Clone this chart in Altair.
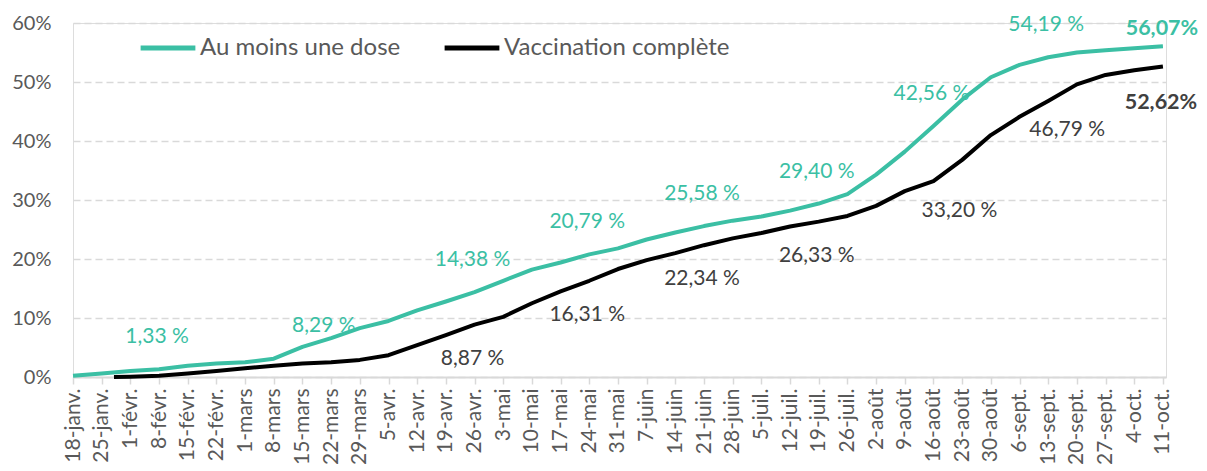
import altair as alt
import pandas as pd

TEAL = "#3BBFA4"
DARK = "#000000"
LBL_DARK = "#404040"
FONT = "Lato"

# weekly dates 18-janv. -> 11-oct. 2021
week_dates = pd.date_range("2021-01-18", "2021-10-11", freq="7D").strftime("%Y-%m-%d").tolist()

series_names = ["Au moins une dose", "Vaccination complète"]

# "Au moins une dose" (%), one value per week
dose1_values = [0.2, 0.6, 1.0, 1.33, 1.9, 2.3, 2.5, 3.1, 5.1, 6.6,
                8.29, 9.5, 11.3, 12.8, 14.38, 16.3, 18.2, 19.4, 20.79, 21.8,
                23.3, 24.5, 25.58, 26.5, 27.2, 28.2, 29.40, 31.0, 34.3, 38.2,
                42.56, 47.0, 50.8, 52.9, 54.19, 55.0, 55.4, 55.7, 56.07]

# "Vaccination complète" (%), starts 28-janv., then weekly from 1-févr.
full_dates = ["2021-01-28"] + week_dates[2:]
full_values = [0.0, 0.05, 0.2, 0.6, 1.0, 1.5, 1.9, 2.3, 2.5, 2.9,
               3.7, 5.4, 7.1, 8.87, 10.2, 12.5, 14.5, 16.31, 18.3, 19.8,
               21.0, 22.34, 23.5, 24.4, 25.5, 26.33, 27.3, 29.0, 31.5, 33.20,
               36.8, 41.0, 44.1, 46.79, 49.6, 51.2, 52.0, 52.62]

# annotations
teal_lbl_dates = ["2021-02-08", "2021-04-26", "2021-05-24", "2021-06-21",
                  "2021-07-19", "2021-08-16", "2021-09-13"]
teal_lbl_values = [1.33, 14.38, 20.79, 25.58, 29.40, 42.56, 54.19]
teal_side_dates = ["2021-03-29"]
teal_side_values = [8.29]
teal_end_dates = ["2021-10-11"]
teal_end_values = [56.07]

dark_lbl_dates = ["2021-04-26", "2021-05-24", "2021-06-21", "2021-07-19"]
dark_lbl_values = [8.87, 16.31, 22.34, 26.33]
dark_side_dates = ["2021-08-16", "2021-09-13"]
dark_side_values = [33.20, 46.79]
dark_end_dates = ["2021-10-11"]
dark_end_values = [52.62]

y_ticks = [0, 10, 20, 30, 40, 50, 60]


def fr(v, space=True):
    return f"{v:.2f}".replace(".", ",") + (" %" if space else "%")


lines_df = pd.DataFrame(
    {"date": week_dates, "value": dose1_values, "serie": series_names[0]}
)
lines_df = pd.concat([
    lines_df,
    pd.DataFrame({"date": full_dates, "value": full_values, "serie": series_names[1]}),
])


def lbl_df(dates, values, space=True):
    return pd.DataFrame({"date": dates, "value": values,
                         "txt": [fr(v, space) for v in values]})


def ms(d):
    return int(pd.Timestamp(d, tz="UTC").value // 10**6)


tick_values = [ms(d) for d in week_dates]

month_expr = ("['janv.','févr.','mars','avr.','mai','juin','juil.','août','sept.','oct.','nov.','déc.']"
              "[utcmonth(datum.value)]")

x_enc = alt.X(
    "date:T",
    scale=alt.Scale(type="utc",
                    domain=[ms("2021-01-18"), ms("2021-10-11") + 18 * 3600 * 1000]),
    axis=alt.Axis(
        values=tick_values,
        tickCount=200,
        labelExpr="utcdate(datum.value) + '-' + " + month_expr,
        labelAngle=270,
        labelFontSize=21,
        labelColor="#595959",
        labelFont=FONT,
        labelOverlap=False,
        labelFlush=False,
        labelSeparation=0,
        labelPadding=4,
        domainColor="#d9d9d9",
        domainWidth=2,
        tickColor="#d9d9d9",
        tickWidth=1.5,
        tickSize=7,
        grid=False,
        title=None,
    ),
)

y_enc = alt.Y(
    "value:Q",
    scale=alt.Scale(domain=[0, 60], nice=False, zero=True),
    axis=alt.Axis(
        values=y_ticks,
        labelExpr="datum.value + '%'",
        labelFontSize=20,
        labelColor="#595959",
        labelFont=FONT,
        labelPadding=22,
        domain=False,
        ticks=False,
        grid=True,
        gridColor="#d9d9d9",
        gridWidth=1.5,
        gridDash=[7, 4],
        title=None,
    ),
)

lines = alt.Chart(lines_df).mark_line(strokeWidth=4, strokeJoin="round").encode(
    x=x_enc,
    y=y_enc,
    color=alt.Color(
        "serie:N",
        scale=alt.Scale(domain=series_names, range=[TEAL, DARK]),
        legend=alt.Legend(
            title=None,
            orient="none",
            legendX=65,
            legendY=-5,
            direction="horizontal",
            symbolType="stroke",
            symbolSize=3000,
            symbolStrokeWidth=5,
            labelFontSize=24,
            labelFont=FONT,
            labelColor="#595959",
            labelOffset=2,
            labelLimit=500,
            columnPadding=33,
            padding=0,
        ),
    ),
)


def text_layer(df, color, dx, dy, bold=False, size=21):
    return alt.Chart(df).mark_text(
        color=color, dx=dx, dy=dy, fontSize=size, font=FONT,
        fontWeight="bold" if bold else "normal",
        align="center", baseline="middle",
    ).encode(x="date:T", y="value:Q", text="txt:N")


layers = [
    lines,
    text_layer(lbl_df(teal_lbl_dates, teal_lbl_values), TEAL, -2, -32),
    text_layer(lbl_df(teal_side_dates, teal_side_values), TEAL, -36, -2),
    text_layer(lbl_df(teal_end_dates, teal_end_values, False), TEAL, -1, -17, True, 21.5),
    text_layer(lbl_df(dark_lbl_dates, dark_lbl_values), LBL_DARK, -2, 34),
    text_layer(lbl_df(dark_side_dates[:1], dark_side_values[:1]), LBL_DARK, 26, 30),
    text_layer(lbl_df(dark_side_dates[1:], dark_side_values[1:]), LBL_DARK, 19, 29),
    text_layer(lbl_df(dark_end_dates, dark_end_values, False), LBL_DARK, -2, 36, True, 21.5),
]

chart = alt.layer(*layers).properties(
    width=1093,
    height=354,
    autosize=alt.AutoSizeParams(type="none"),
    padding={"left": 65, "top": 15, "right": 33, "bottom": 90},
).configure_view(stroke=None).configure(font=FONT)

chart.save("out.html", embed_options={"renderer": "svg", "actions": False})
